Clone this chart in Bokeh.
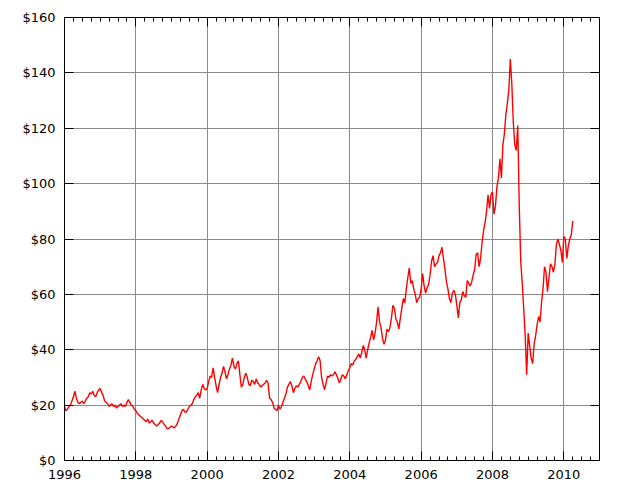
from bokeh.plotting import figure
from bokeh.models import (Range1d, FixedTicker, PrintfTickFormatter, LinearAxis,
                          ColumnDataSource, CustomJSTickFormatter)
from bokeh.embed import file_html
from bokeh.resources import INLINE

# Semi-monthly oil price readings (USD per barrel), 1st and 15th of each month
p1996 = [19.5, 18.0, 18.5, 19.5, 20.0, 21.5, 23.0, 25.0, 22.5, 21.0, 20.5, 21.0,
         21.5, 20.5, 21.5, 22.5, 23.0, 24.5, 24.0, 25.0, 23.5, 23.0, 24.5, 25.5]
p1997 = [26.0, 24.5, 23.5, 21.5, 21.0, 20.5, 19.5, 20.0, 20.5, 19.5, 20.0, 19.0,
         19.5, 20.0, 20.5, 19.5, 20.0, 19.5, 21.0, 22.0, 21.0, 20.0, 19.5, 18.5]
p1998 = [18.0, 17.0, 16.5, 16.0, 15.5, 15.0, 14.5, 14.0, 15.0, 13.5, 14.0, 14.5,
         13.5, 13.0, 12.5, 13.0, 13.5, 14.5, 14.0, 13.0, 12.5, 11.5, 11.5, 12.0]
p1999 = [12.5, 12.0, 11.8, 12.5, 13.5, 15.0, 16.5, 18.0, 18.5, 17.5, 17.5, 18.5,
         19.5, 20.0, 20.5, 22.0, 23.0, 23.5, 24.5, 22.5, 25.5, 27.5, 26.0, 25.5]
p2000 = [26.0, 28.5, 30.5, 30.0, 33.5, 30.0, 27.0, 24.5, 27.5, 30.0, 31.5, 34.0,
         32.0, 29.5, 31.0, 33.0, 34.5, 37.0, 34.0, 33.0, 35.0, 36.0, 31.0, 26.5]
p2001 = [27.5, 30.0, 31.5, 30.0, 27.5, 27.0, 29.0, 28.5, 27.5, 29.5, 28.0, 27.5,
         26.5, 27.0, 27.5, 28.0, 29.0, 28.0, 22.5, 22.0, 21.0, 19.0, 18.5, 18.0]
p2002 = [20.0, 18.5, 19.5, 21.0, 22.5, 24.0, 26.5, 27.5, 28.5, 27.0, 24.5, 26.0,
         27.0, 26.5, 27.5, 28.5, 30.0, 30.5, 29.5, 28.5, 27.0, 25.5, 28.5, 31.0]
p2003 = [33.0, 35.0, 36.0, 37.5, 36.0, 30.0, 27.5, 25.5, 28.0, 30.5, 30.0, 31.0,
         30.5, 31.0, 32.0, 31.0, 29.5, 28.0, 29.5, 31.0, 30.5, 29.5, 31.0, 32.5]
p2004 = [33.5, 35.0, 34.5, 36.0, 36.5, 37.5, 38.5, 37.0, 39.0, 41.5, 40.0, 37.0,
         40.0, 42.5, 44.5, 47.0, 43.5, 46.0, 50.0, 55.5, 50.0, 48.0, 44.0, 42.0]
p2005 = [43.5, 47.5, 46.5, 48.0, 51.5, 56.0, 55.0, 51.0, 50.0, 47.5, 51.5, 55.0,
         58.5, 57.0, 62.0, 66.0, 69.5, 64.0, 65.0, 62.0, 60.0, 57.0, 58.5, 59.0]
p2006 = [62.0, 67.5, 63.0, 60.5, 62.5, 63.5, 67.0, 72.0, 74.0, 70.0, 71.0, 71.5,
         74.0, 75.0, 77.0, 73.0, 69.0, 64.5, 62.0, 58.5, 57.0, 60.5, 61.5, 60.0]
p2007 = [56.0, 51.5, 57.0, 58.0, 61.0, 59.5, 59.0, 65.0, 64.0, 63.0, 64.5, 67.0,
         69.0, 74.5, 75.0, 70.0, 73.0, 79.0, 83.0, 86.0, 90.0, 96.0, 91.0, 96.0]
p2008 = [97.0, 89.0, 92.0, 99.0, 102.0, 109.0, 102.0, 114.0, 118.0, 125.0, 129.0, 134.0,
         145.0, 136.0, 122.0, 114.0, 112.0, 121.0, 92.0, 72.0, 64.0, 55.0, 45.0, 31.0]
p2009 = [46.0, 41.5, 37.0, 35.0, 42.0, 45.0, 49.0, 52.0, 50.0, 57.0, 62.0, 70.0,
         68.0, 61.0, 66.0, 71.0, 70.0, 68.0, 71.0, 78.0, 80.0, 78.0, 76.0, 71.5]
p2010 = [81.0, 80.0, 73.0, 77.5, 80.0, 81.5, 86.5]

series = [(1996, p1996), (1997, p1997), (1998, p1998), (1999, p1999), (2000, p2000),
          (2001, p2001), (2002, p2002), (2003, p2003), (2004, p2004), (2005, p2005),
          (2006, p2006), (2007, p2007), (2008, p2008), (2009, p2009), (2010, p2010)]

year_ticks = [1996, 1998, 2000, 2002, 2004, 2006, 2008, 2010]
price_ticks = [0, 20, 40, 60, 80, 100, 120, 140, 160]

dates, prices = [], []
for yr, vals in series:
    for k, v in enumerate(vals):
        dates.append(yr + k / 24.0)
        prices.append(v)

src = ColumnDataSource(data=dict(date=dates, price=prices))

W, H = 613, 489
p = figure(width=W, height=H, output_backend="svg", toolbar_location=None,
           x_range=Range1d(1996, 2011), y_range=Range1d(0, 160),
           x_axis_location=None, y_axis_location=None,
           min_border_left=64, min_border_right=14, min_border_top=17, min_border_bottom=29)
p.background_fill_color = "white"
p.border_fill_color = "white"
p.outline_line_color = "black"
p.outline_line_width = 1

quarters = [1996 + q / 4.0 for q in range(0, 61)]
xt = FixedTicker(ticks=year_ticks, minor_ticks=quarters)
yt = FixedTicker(ticks=price_ticks, minor_ticks=[])
blank = CustomJSTickFormatter(code="return '';")

def style(ax, labels=True):
    ax.axis_line_color = "black"
    ax.axis_line_width = 1
    ax.major_tick_in = 9
    ax.major_tick_out = 0
    ax.minor_tick_in = 4
    ax.minor_tick_out = 0
    ax.major_tick_line_color = "black"
    ax.minor_tick_line_color = "black"
    ax.major_label_text_font = "DejaVu Sans"
    ax.major_label_text_font_size = "13px"
    ax.major_label_text_color = "black"
    ax.major_label_standoff = 9 if labels else 0

bottom = LinearAxis(ticker=xt)
style(bottom)
top = LinearAxis(ticker=xt, formatter=blank)
style(top, labels=False)
left = LinearAxis(ticker=yt, formatter=PrintfTickFormatter(format="$%d"))
style(left)
right = LinearAxis(ticker=yt, formatter=blank)
style(right, labels=False)

p.add_layout(bottom, "below")
p.add_layout(top, "above")
p.add_layout(left, "left")
p.add_layout(right, "right")

p.xgrid.ticker = xt
p.ygrid.ticker = yt
p.xgrid.grid_line_color = "#8a8a8a"
p.ygrid.grid_line_color = "#8a8a8a"
p.xgrid.grid_line_width = 1
p.ygrid.grid_line_width = 1

p.line("date", "price", source=src, line_color="#ff0000", line_width=1.4)

open("out.html", "w").write(file_html(p, INLINE))
